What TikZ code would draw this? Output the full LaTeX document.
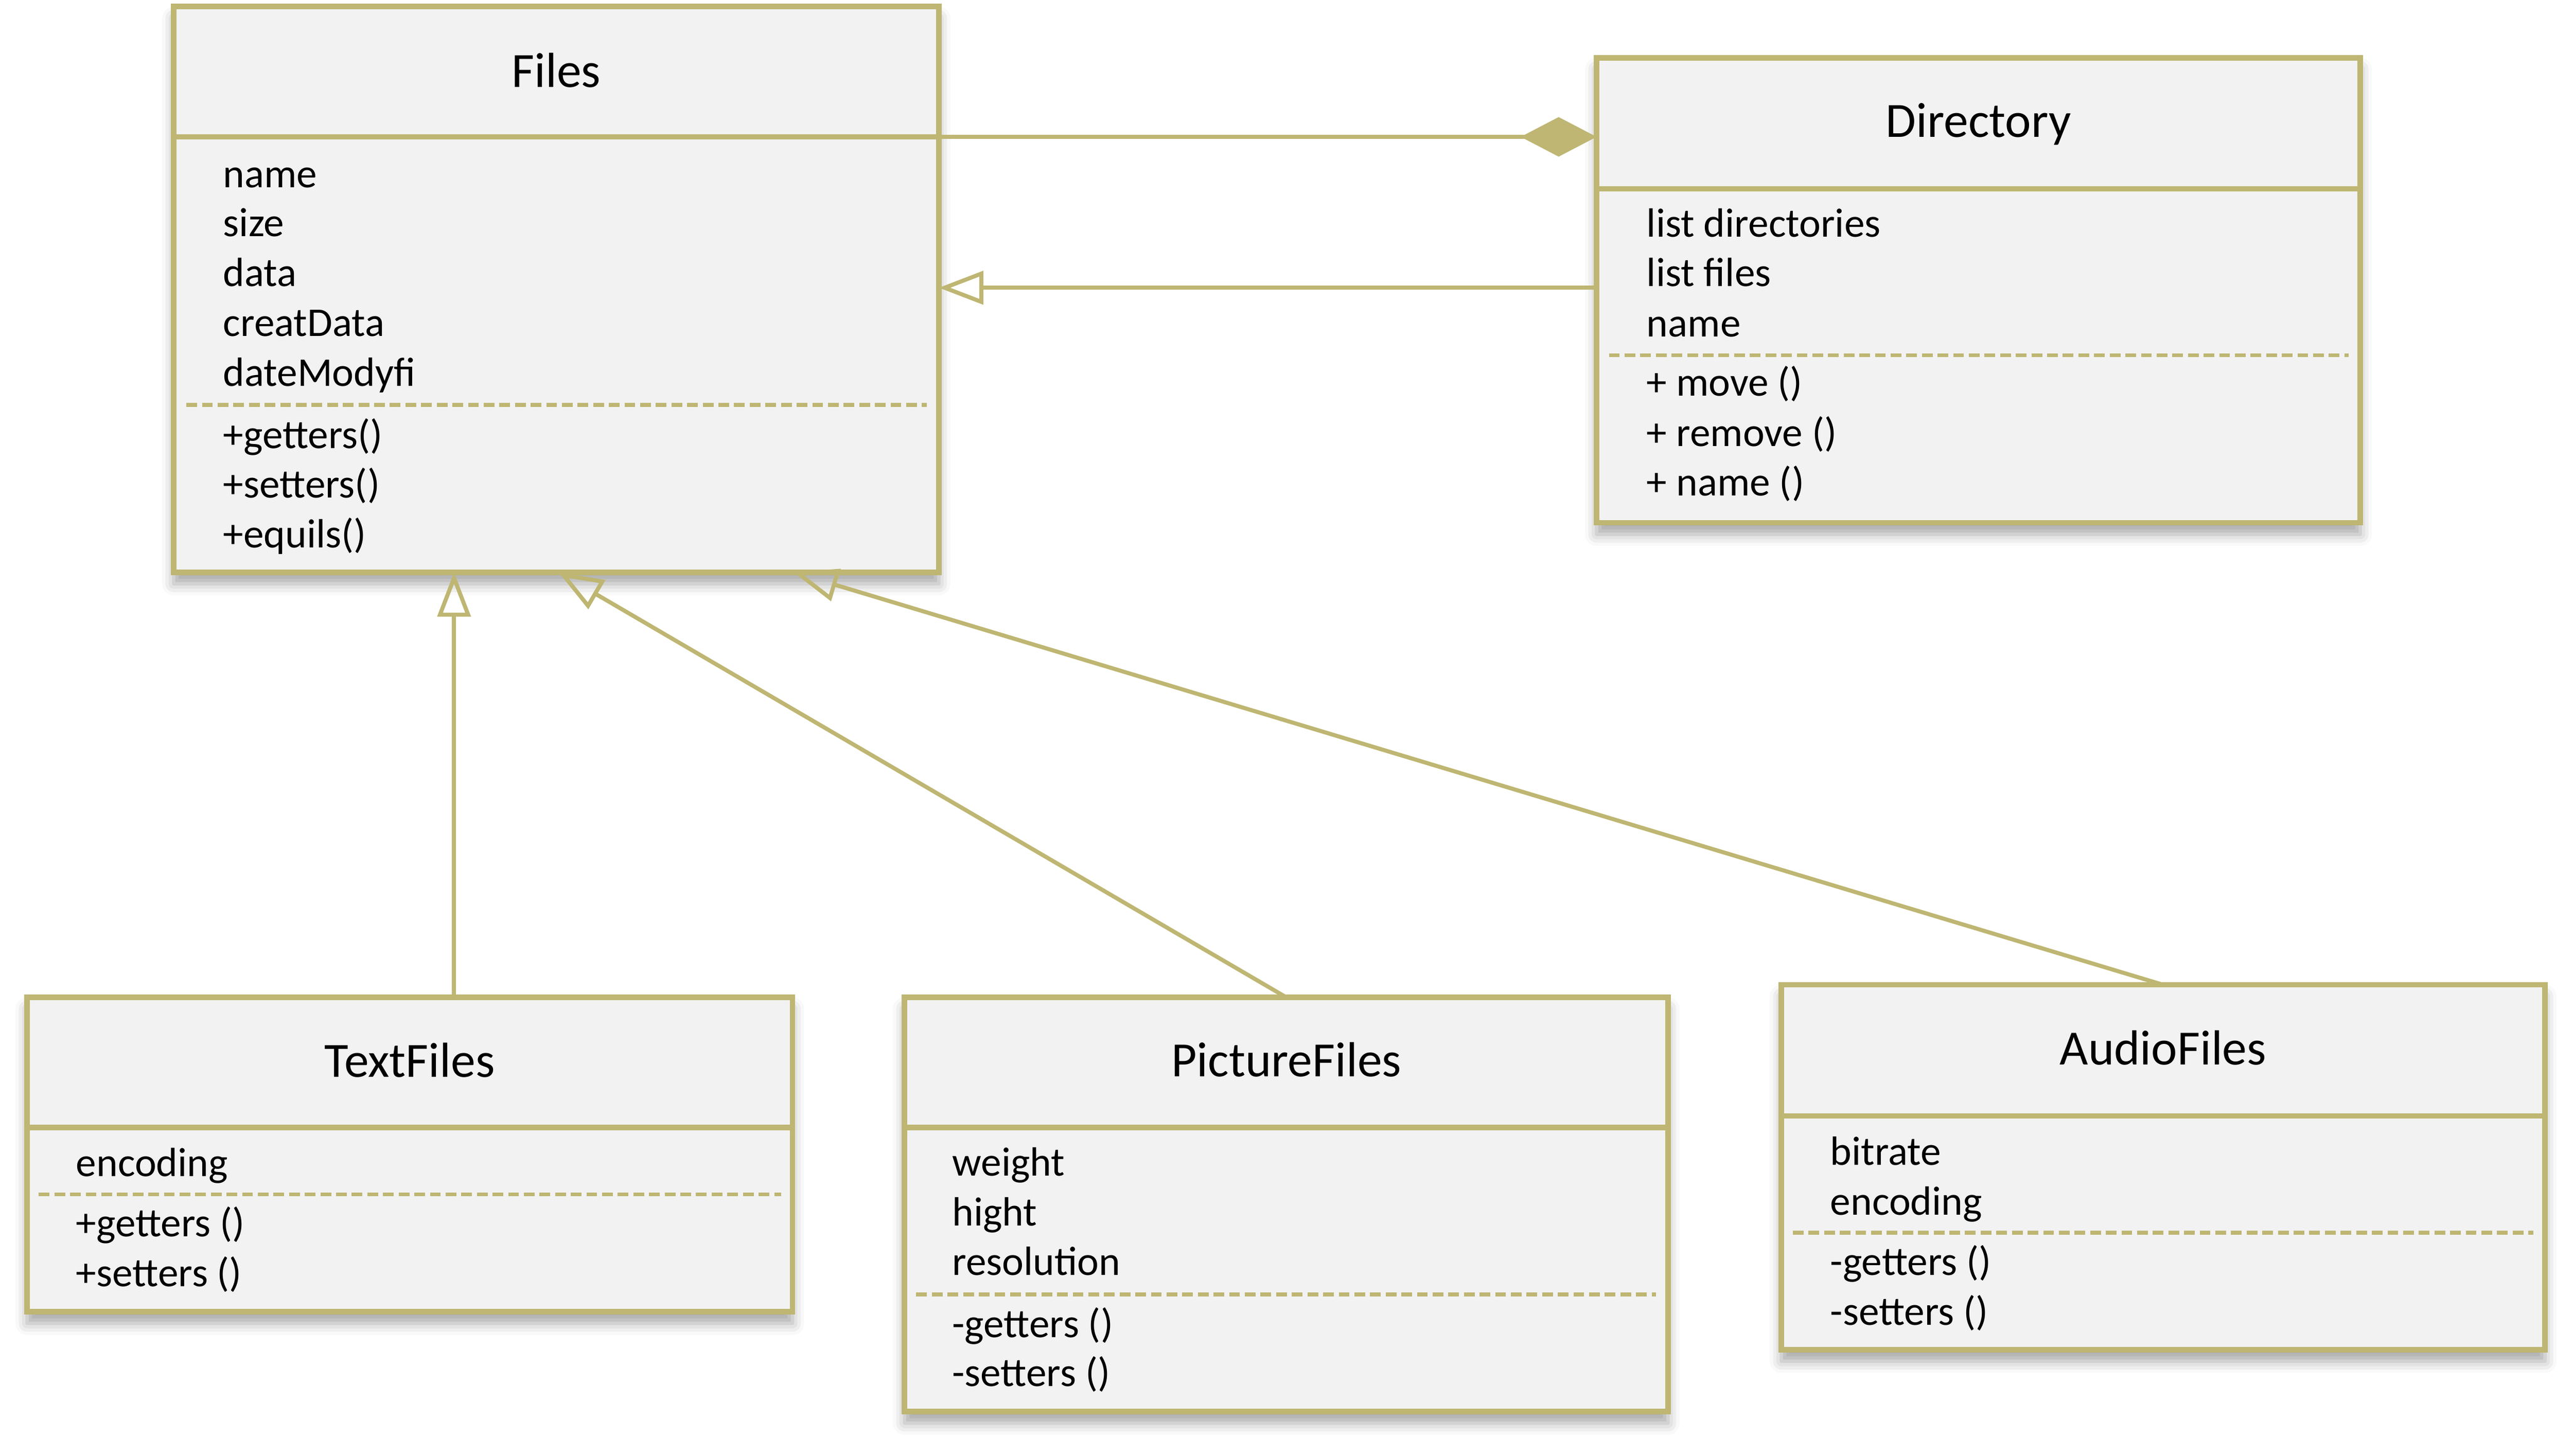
\documentclass[tikz,border=0pt]{standalone}
\usepackage{fontspec}
\setmainfont{Carlito}
\usetikzlibrary{arrows.meta,calc,fit,shadows.blur}
\definecolor{umlolive}{RGB}{190,182,114}
\definecolor{boxgray}{RGB}{242,242,242}
\begin{document}
\begin{tikzpicture}[x=0.02cm,y=-0.02cm,
classbox/.style={draw=umlolive,fill=boxgray,line width=1.9pt,inner sep=0pt,outer sep=0pt,
  blur shadow={shadow xshift=0pt,shadow yshift=-4pt,shadow blur radius=4pt,shadow opacity=35}},
sep/.style={draw=umlolive,line width=1.9pt},
dots/.style={draw=umlolive,line width=1.3pt,dash pattern=on 3.7pt off 1.7pt},
title/.style={anchor=base,inner sep=0pt,font=\fontsize{17pt}{20pt}\selectfont},
item/.style={anchor=base west,inner sep=0pt,font=\fontsize{14.1pt}{17pt}\selectfont},
gen/.style={draw=umlolive,line width=1.4pt,-{Triangle[open,length=0.54cm,width=0.4cm]}},
comp/.style={draw=umlolive,line width=1.4pt,-{Diamond[length=0.92cm,width=0.48cm]}}]
\useasboundingbox (0,0) rectangle (1560,882.76);

\node[classbox,fit={(105.3,4)(569.2,347)}] (files) {};
\draw[sep] (105.3,83) -- (569.2,83);
\node[title] (files-t) at (337.25,53) {Files};
\foreach \y/\txt [count=\i] in {113.7/name,143.5/size,173.7/data,204/creatData,234.3/dateModyfi}
\node[item] (files-a\i) at (135,\y) {\txt};
\draw[dots] (113,245.5) -- (562,245.5);
\foreach \y/\txt [count=\i] in {272/+getters(),302/+setters(),332/+equils()}
\node[item] (files-m\i) at (135,\y) {\txt};

\node[classbox,fit={(968,35)(1431,317)}] (directory) {};
\draw[sep] (968,114.5) -- (1431,114.5);
\node[title] (directory-t) at (1199.5,83.1) {Directory};
\foreach \y/\txt [count=\i] in {143.8/list directories,173.6/list files,204.3/name}
\node[item] (directory-a\i) at (998,\y) {\txt};
\draw[dots] (975.5,215.5) -- (1424,215.5);
\foreach \y/\txt [count=\i] in {240/+ move (),270.7/+ remove (),300.6/+ name ()}
\node[item] (directory-m\i) at (998,\y) {\txt};

\node[classbox,fit={(16.4,604.8)(480.5,795.5)}] (textfiles) {};
\draw[sep] (16.4,683.8) -- (480.5,683.8);
\node[title] (textfiles-t) at (248.5,653.3) {TextFiles};
\node[item] (textfiles-a1) at (45.8,713.3) {encoding};
\draw[dots] (23.5,724.4) -- (473.5,724.4);
\foreach \y/\txt [count=\i] in {750/+getters (),780.3/+setters ()}
\node[item] (textfiles-m\i) at (45.8,\y) {\txt};

\node[classbox,fit={(548.4,604.8)(1011.3,856)}] (picturefiles) {};
\draw[sep] (548.4,683.8) -- (1011.3,683.8);
\node[title] (picturefiles-t) at (779.9,653) {PictureFiles};
\foreach \y/\txt [count=\i] in {713/weight,743.4/hight,773.4/resolution}
\node[item] (picturefiles-a\i) at (577,\y) {\txt};
\draw[dots] (555.5,785) -- (1004,785);
\foreach \y/\txt [count=\i] in {811/-getters (),840.8/-setters ()}
\node[item] (picturefiles-m\i) at (577,\y) {\txt};

\node[classbox,fit={(1080,597.2)(1543,818.5)}] (audiofiles) {};
\draw[sep] (1080,676.7) -- (1543,676.7);
\node[title] (audiofiles-t) at (1311.5,645.8) {AudioFiles};
\foreach \y/\txt [count=\i] in {706.4/bitrate,736.7/encoding}
\node[item] (audiofiles-a\i) at (1109.4,\y) {\txt};
\draw[dots] (1087,747.6) -- (1536,747.6);
\foreach \y/\txt [count=\i] in {773.4/-getters (),803.4/-setters ()}
\node[item] (audiofiles-m\i) at (1109.4,\y) {\txt};

\coordinate (c1) at ($(files.north east)+(0,79)$);
\coordinate (g1) at ($(directory.north west)+(0,139.5)$);
\coordinate (t1) at ($(files.south west)+(170,0)$);
\coordinate (t2) at ($(files.south west)+(233.3,0)$);
\coordinate (t3) at ($(files.south west)+(375.7,0)$);

\draw[comp] (c1) -- (c1 -| directory.west);
\draw[gen] (g1) -- (g1 -| files.east);
\draw[gen] (textfiles.north -| t1) -- (t1);
\draw[gen] (picturefiles.north) -- (t2);
\draw[gen] (audiofiles.north) -- (t3);
\end{tikzpicture}
\end{document}
